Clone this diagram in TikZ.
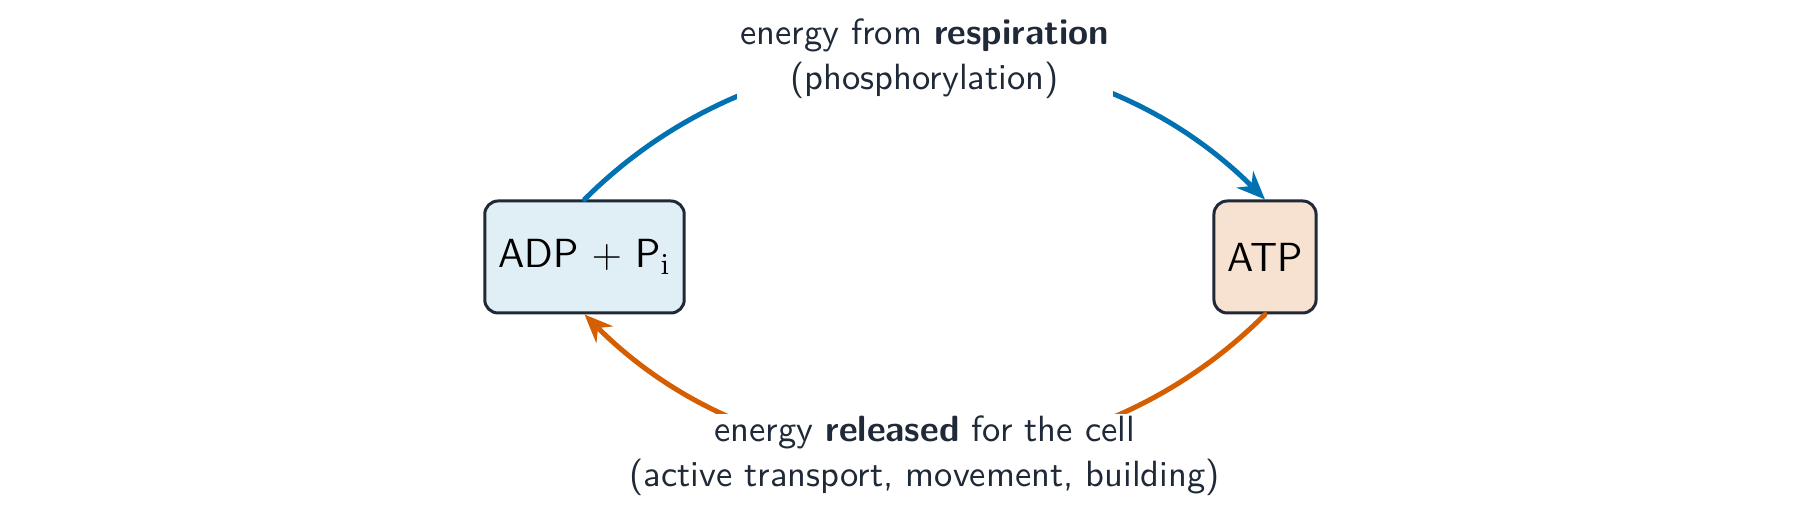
\documentclass[tikz,border=0pt]{standalone}
\usepackage{amsmath, amssymb}
\usepackage{xcolor}
\usepackage{tikz}
\usetikzlibrary{arrows.meta}

\definecolor{ink}{HTML}{1F2937}
\definecolor{resblue}{HTML}{0072B2}
\definecolor{relorange}{HTML}{D55E00}

\begin{document}
\begin{tikzpicture}[x=0.3pt,y=0.3pt,
  chem/.style={draw=ink, line width=0.9pt, rounded corners=4pt, text=black,
    font=\sffamily\fontsize{12.2}{14}\selectfont, inner xsep=4pt,
    minimum height=33.6pt},
  flow/.style={line width=1.5pt, line cap=round,
    -{Stealth[length=8.5pt,width=7pt]}},
  note/.style={fill=white, text=ink, align=center, inner xsep=1pt, inner ysep=0.5pt,
    font=\sffamily\fontsize{10.95}{13.5}\selectfont}]
\useasboundingbox (0,0) rectangle (1800,515);

% Text Node
\node[chem, fill=resblue!12] (adp) at (584.5,258) {ADP $+$ P$_\mathrm{i}$};
% Text Node
\node[chem, fill=relorange!18] (atp) at (1265,258) {ATP};

%Curved Lines
\draw[flow, resblue] (adp.north) to[bend left=45]
  node[note] (resp) {energy from \textbf{respiration}\\(phosphorylation)} (atp.north);
%Curved Lines
\draw[flow, relorange] (atp.south) to[bend left=45]
  node[note] (rel) {energy \textbf{released} for the cell\\(active transport, movement, building)} (adp.south);

\end{tikzpicture}
\end{document}
